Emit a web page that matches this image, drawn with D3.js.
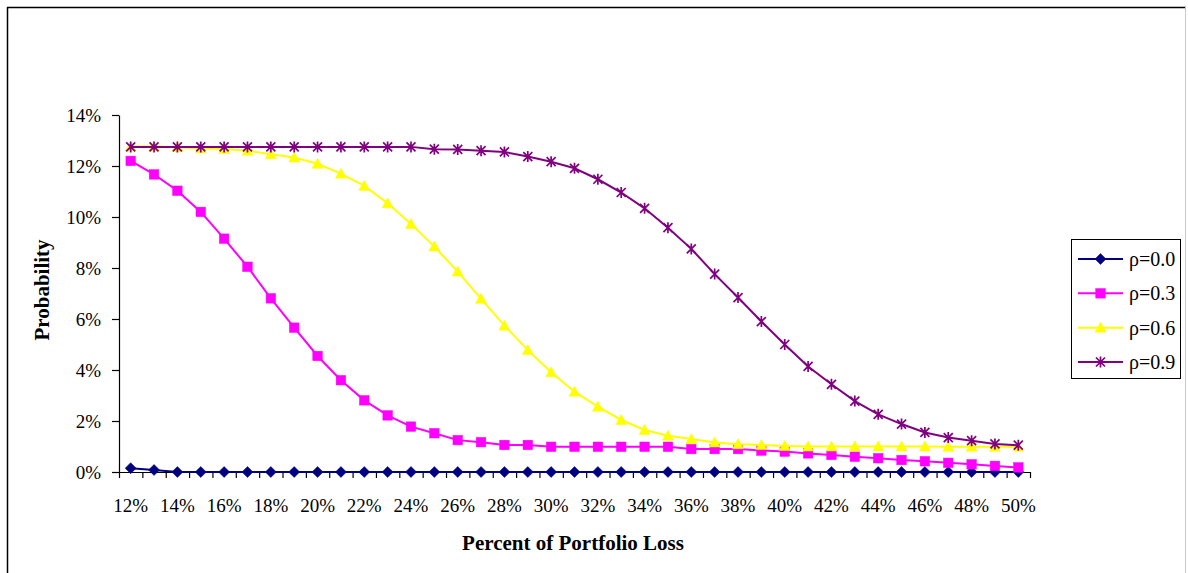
<!DOCTYPE html>
<html>
<head>
<meta charset="utf-8">
<script src="https://cdn.jsdelivr.net/npm/d3@7"></script>
<style>
  html, body { margin: 0; padding: 0; background: #fff; }
  svg { display: block; }
  text { font-family: 'Liberation Serif', 'Times New Roman', serif; fill: #000; }
</style>
</head>
<body>
<svg id="chart" width="1188" height="573"></svg>
<script>
// ---- data (values in percent) ----
const categories = d3.range(12, 51); // 12% .. 50%
const xTickLabels = d3.range(12, 51, 2);
const yTickValues = [0, 2, 4, 6, 8, 10, 12, 14];
const seriesNames = ["ρ=0.0", "ρ=0.3", "ρ=0.6", "ρ=0.9"];

const rho00 = [0.15, 0.08, 0, 0, 0, 0, 0, 0, 0, 0, 0, 0, 0, 0, 0, 0, 0, 0, 0, 0,
               0, 0, 0, 0, 0, 0, 0, 0, 0, 0, 0, 0, 0, 0, 0, 0, 0, 0, 0];
const rho03 = [12.2, 11.67, 11.03, 10.2, 9.15, 8.05, 6.81, 5.66, 4.55, 3.6,
               2.81, 2.22, 1.78, 1.52, 1.25, 1.17, 1.06, 1.06, 0.99, 0.99,
               0.99, 0.99, 0.99, 0.99, 0.9, 0.9, 0.9, 0.84, 0.8, 0.73,
               0.67, 0.6, 0.54, 0.47, 0.42, 0.36, 0.3, 0.24, 0.18];
const rho06 = [12.76, 12.76, 12.74, 12.69, 12.67, 12.6, 12.46, 12.33, 12.09, 11.7,
               11.22, 10.54, 9.73, 8.84, 7.86, 6.79, 5.74, 4.78, 3.91, 3.15,
               2.56, 2.04, 1.65, 1.42, 1.29, 1.16, 1.09, 1.06, 1.02, 1.0,
               1.0, 1.0, 1.0, 1.0, 1.0, 0.99, 0.99, 0.99, 0.99];
const rho09 = [12.75, 12.75, 12.75, 12.75, 12.75, 12.75, 12.75, 12.75, 12.75, 12.75,
               12.75, 12.75, 12.75, 12.66, 12.65, 12.6, 12.55, 12.37, 12.17, 11.91,
               11.48, 10.96, 10.34, 9.58, 8.75, 7.76, 6.84, 5.9, 5.0, 4.14,
               3.44, 2.78, 2.26, 1.88, 1.55, 1.35, 1.23, 1.1, 1.05];

const seriesValues = [rho00, rho03, rho06, rho09];
const colors = ["#000080", "#FF00FF", "#FFFF00", "#800080"];
const markers = ["diamond", "square", "triangle", "star"];

// ---- layout ----
const svg = d3.select("#chart");
const plot = { left: 119, right: 1030, top: 115, bottom: 472 };

// chart frame
svg.append("line").attr("x1", 7).attr("y1", 7.5).attr("x2", 1186).attr("y2", 7.5)
  .attr("stroke", "#000").attr("stroke-width", 1.5);
svg.append("line").attr("x1", 7.5).attr("y1", 7).attr("x2", 7.5).attr("y2", 573)
  .attr("stroke", "#000").attr("stroke-width", 1.5);
svg.append("line").attr("x1", 1185.5).attr("y1", 7).attr("x2", 1185.5).attr("y2", 573)
  .attr("stroke", "#c8c8c8").attr("stroke-width", 1);

const x = d3.scaleBand().domain(categories).range([plot.left, plot.right]).padding(0);
const xEdge = d3.scaleLinear().domain([0, categories.length]).range([plot.left, plot.right]);
const y = d3.scaleLinear().domain([0, 14]).range([plot.bottom, plot.top]);

// y axis
const yAxis = svg.append("g")
  .attr("transform", `translate(${plot.left},0)`)
  .call(d3.axisLeft(y).tickValues(yTickValues).tickSize(7).tickSizeOuter(0)
    .tickPadding(11).tickFormat(d => d + "%"));
yAxis.select(".domain").attr("stroke", "#000").attr("stroke-width", 1.2);
yAxis.selectAll(".tick line").attr("stroke", "#000").attr("stroke-width", 1.2);
yAxis.selectAll("text").attr("font-size", 19).attr("font-family", "'Liberation Serif', serif");

// x axis (tick marks at category boundaries)
const xAxisTicks = svg.append("g")
  .attr("transform", `translate(0,${plot.bottom})`)
  .call(d3.axisBottom(xEdge).tickValues(d3.range(categories.length + 1))
    .tickSize(6).tickSizeOuter(0).tickFormat(""));
xAxisTicks.select(".domain").attr("stroke", "#000").attr("stroke-width", 1.2);
xAxisTicks.selectAll(".tick line").attr("stroke", "#000").attr("stroke-width", 1.2);

const xAxisLabels = svg.append("g")
  .attr("transform", `translate(0,${plot.bottom})`)
  .call(d3.axisBottom(x).tickValues(xTickLabels).tickSize(0).tickFormat(d => d + "%"));
xAxisLabels.select(".domain").remove();
xAxisLabels.selectAll("text").attr("y", 39.5).attr("dy", null)
  .attr("font-size", 19).attr("font-family", "'Liberation Serif', serif");

// axis titles
svg.append("text").attr("x", 573).attr("y", 550).attr("text-anchor", "middle")
  .attr("font-size", 21).attr("font-weight", "bold").text("Percent of Portfolio Loss");
svg.append("text").attr("transform", "translate(49,290) rotate(-90)")
  .attr("text-anchor", "middle").attr("font-size", 21).attr("font-weight", "bold")
  .text("Probability");

// marker drawing
function drawMarker(g, type, color) {
  if (type === "diamond") {
    g.append("path").attr("d", "M0,-5.5L5.5,0L0,5.5L-5.5,0Z").attr("fill", color).attr("stroke", color).attr("stroke-width", 0.5);
  } else if (type === "square") {
    g.append("rect").attr("x", -4.75).attr("y", -4.75).attr("width", 9.5).attr("height", 9.5)
      .attr("fill", color).attr("stroke", color).attr("stroke-width", 0.5);
  } else if (type === "triangle") {
    g.append("path").attr("d", "M0,-5.5L5.5,4.5L-5.5,4.5Z").attr("fill", color).attr("stroke", color).attr("stroke-width", 0.5);
  } else if (type === "star") {
    g.append("path").attr("d", "M-4.5,-4.5L4.5,4.5M-4.5,4.5L4.5,-4.5M0,-5.5L0,5.5")
      .attr("fill", "none").attr("stroke", color).attr("stroke-width", 1.7);
  }
}

const line = d3.line().x((d, i) => x(categories[i]) + x.bandwidth() / 2).y(d => y(d));

seriesValues.forEach((vals, si) => {
  const g = svg.append("g");
  g.append("path").datum(vals).attr("d", line).attr("fill", "none")
    .attr("stroke", colors[si]).attr("stroke-width", 2);
  vals.forEach((v, i) => {
    const mg = g.append("g").attr("transform",
      `translate(${x(categories[i]) + x.bandwidth() / 2},${y(v)})`);
    drawMarker(mg, markers[si], colors[si]);
  });
});

// legend
const legend = svg.append("g");
legend.append("rect").attr("x", 1071.5).attr("y", 239.5).attr("width", 109).attr("height", 139)
  .attr("fill", "#fff").attr("stroke", "#000").attr("stroke-width", 1);
const legY = d3.scalePoint().domain(seriesNames).range([259, 362]);
seriesNames.forEach((name, si) => {
  const yy = legY(name);
  legend.append("line").attr("x1", 1078).attr("x2", 1123).attr("y1", yy).attr("y2", yy)
    .attr("stroke", colors[si]).attr("stroke-width", 2);
  const mg = legend.append("g").attr("transform", `translate(1100.5,${yy})`);
  drawMarker(mg, markers[si], colors[si]);
  legend.append("text").attr("x", 1129).attr("y", yy).attr("dy", "0.35em")
    .attr("font-size", 20).attr("font-family", "'Liberation Serif', serif").text(name);
});
</script>
</body>
</html>
